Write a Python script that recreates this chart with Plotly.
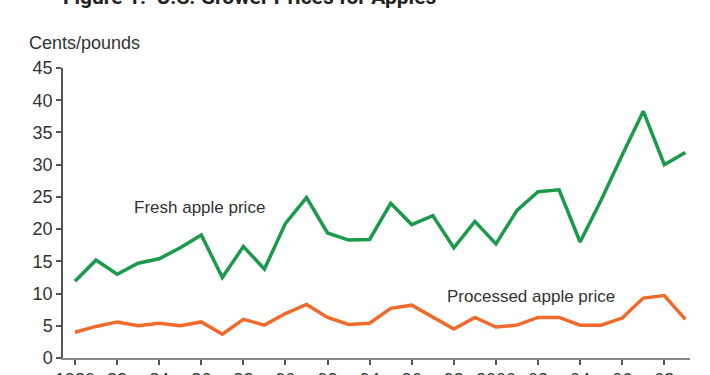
import plotly.graph_objects as go

years = list(range(1980, 2010))
fresh = [11.9, 15.2, 13.0, 14.7, 15.4, 17.1, 19.1, 12.5, 17.3, 13.8,
         20.9, 24.9, 19.4, 18.3, 18.4, 24.0, 20.7, 22.1, 17.1, 21.2,
         17.7, 22.9, 25.8, 26.1, 18.0, 24.5, 31.5, 38.3, 30.0, 31.9]
processed = [4.0, 4.9, 5.6, 5.0, 5.4, 5.0, 5.6, 3.7, 6.0, 5.1,
             6.9, 8.3, 6.3, 5.2, 5.4, 7.7, 8.2, 6.3, 4.5, 6.3,
             4.8, 5.1, 6.3, 6.3, 5.1, 5.1, 6.2, 9.3, 9.7, 6.0]
tick_years = list(range(1980, 2010, 2))
tick_labels = ["1980", "82", "84", "86", "88", "90", "92", "94", "96", "98",
               "2000", "02", "04", "06", "08"]
y_ticks = list(range(0, 50, 5))

GREEN = "#1b9a4a"
ORANGE = "#f26a2a"
TXT = "#333333"
FONT = "Liberation Sans, Arial, sans-serif"

fig = go.Figure()
fig.add_trace(go.Scatter(x=years, y=fresh, mode="lines",
                         line=dict(color=GREEN, width=3.5), name="Fresh apple price"))
fig.add_trace(go.Scatter(x=years, y=processed, mode="lines",
                         line=dict(color=ORANGE, width=3.5), name="Processed apple price"))

fig.update_layout(
    width=710, height=375,
    margin=dict(l=63, r=20, t=68, b=17),
    paper_bgcolor="white", plot_bgcolor="white",
    showlegend=False,
    font=dict(family=FONT, color=TXT, size=18),
)
fig.update_xaxes(
    range=[1979.43, 2009.22], automargin=False,
    tickmode="array", tickvals=tick_years, ticktext=tick_labels,
    ticks="outside", ticklen=5, tickwidth=1.5, tickcolor="#555",
    ticklabelstandoff=0,
    showline=True, linecolor="#888", linewidth=1.5,
    showgrid=False, zeroline=False,
    tickfont=dict(size=18, color=TXT),
)
fig.update_yaxes(
    range=[0, 45], automargin=False,
    tickmode="array", tickvals=y_ticks,
    ticks="outside", ticklen=5, tickwidth=1.5, tickcolor="#555",
    showline=True, linecolor="#555", linewidth=1.5,
    showgrid=False, zeroline=False,
    tickfont=dict(size=18, color=TXT),
)

fig.add_annotation(x=1982.7, y=23.3, xref="x", yref="y", text="Fresh apple price",
                   showarrow=False, xanchor="left", yanchor="middle",
                   font=dict(size=17, color=TXT, family=FONT))
fig.add_annotation(x=1997.6, y=9.5, xref="x", yref="y", text="Processed apple price",
                   showarrow=False, xanchor="left", yanchor="middle",
                   font=dict(size=17, color=TXT, family=FONT))
fig.add_annotation(x=-0.058, y=1.045, xref="paper", yref="paper", text="Cents/pounds",
                   showarrow=False, xanchor="left", yanchor="bottom",
                   font=dict(size=18, color=TXT, family=FONT))
fig.add_annotation(x=-0.003, y=1.197, xref="paper", yref="paper",
                   text="<b>Figure 1.  U.S. Grower Prices for Apples</b>",
                   showarrow=False, xanchor="left", yanchor="bottom",
                   font=dict(size=21, color="#222", family="Roboto, sans-serif"))

fig.write_html("out.html", config={"displayModeBar": False},
               post_script="document.body.style.margin='0';")
